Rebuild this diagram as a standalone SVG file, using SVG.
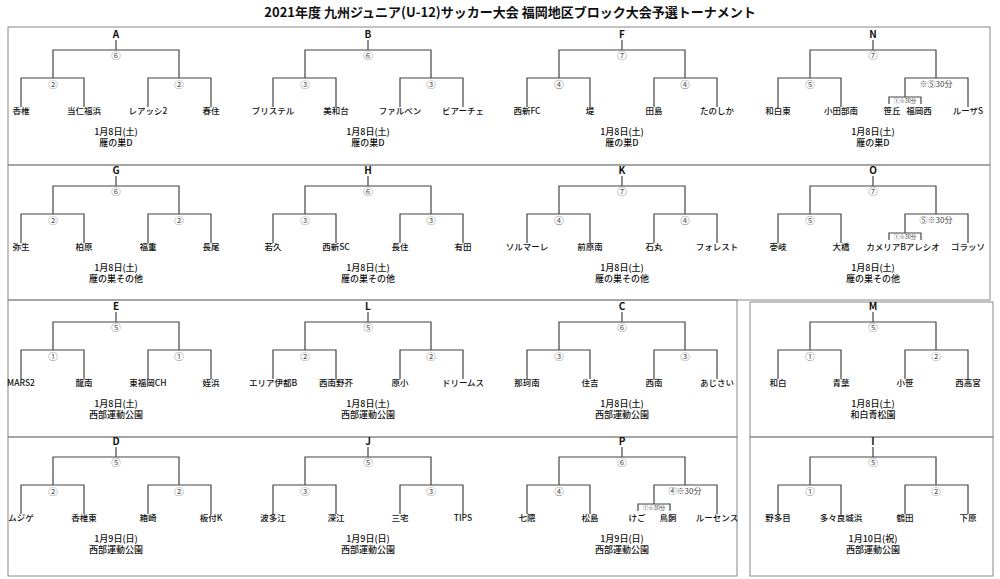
<svg xmlns="http://www.w3.org/2000/svg" xmlns:xlink="http://www.w3.org/1999/xlink" width="1000" height="579" viewBox="0 0 1000 579">
<style>
text{font-family:"Noto Sans CJK JP","Noto Sans CJK SC",sans-serif;fill:#111;text-anchor:middle}
.ttl{font-size:13px;font-weight:bold;fill:#111}
.lt{font-size:10px;font-weight:bold;fill:#111}
.n{font-size:9.5px;fill:#555}
.s{font-size:8px;fill:#444}
.b{font-size:5.5px;fill:#444}
.t{font-size:8.5px;font-weight:500}
.d{font-size:9px;font-weight:500}
.fr{fill:none;stroke:#888;stroke-width:1}
.ln{fill:none;stroke:#444;stroke-width:1.2}
</style>
<defs>
<path id="bk" class="ln" d="M116 40V50M53 78V50H179V78M21 107V78H84V107M148 107V78H211V107"/>
<path id="bk2" class="ln" d="M116 40V50M53 78V50H179V78M21 107V78H84V107M148 97V78H211V107M132 104V97H164V104"/>
</defs>
<rect width="1000" height="579" fill="#fff"/>
<text class="ttl" x="510" y="17">2021年度 九州ジュニア(U-12)サッカー大会 福岡地区ブロック大会予選トーナメント</text>
<g id="frames">
<rect class="fr" x="8" y="27" width="982" height="138"/>
<rect class="fr" x="8" y="165" width="982" height="135"/>
<rect class="fr" x="8" y="300" width="729" height="137"/>
<rect class="fr" x="750" y="302" width="243" height="135"/>
<rect class="fr" x="8" y="437" width="729" height="139"/>
<rect class="fr" x="750" y="437" width="243" height="139"/>
</g>
<g id="connectors">
<use xlink:href="#bk" transform="translate(0,0)"/>
<use xlink:href="#bk" transform="translate(252,0)"/>
<use xlink:href="#bk" transform="translate(506,0)"/>
<use xlink:href="#bk2" transform="translate(757,0)"/>
<use xlink:href="#bk" transform="translate(0,136)"/>
<use xlink:href="#bk" transform="translate(252,136)"/>
<use xlink:href="#bk" transform="translate(506,136)"/>
<use xlink:href="#bk2" transform="translate(757,136)"/>
<use xlink:href="#bk" transform="translate(0,272)"/>
<use xlink:href="#bk" transform="translate(252,272)"/>
<use xlink:href="#bk" transform="translate(506,272)"/>
<use xlink:href="#bk" transform="translate(757,272)"/>
<use xlink:href="#bk" transform="translate(0,407)"/>
<use xlink:href="#bk" transform="translate(252,407)"/>
<use xlink:href="#bk2" transform="translate(506,407)"/>
<use xlink:href="#bk" transform="translate(757,407)"/>
</g>
<g id="block-A" transform="translate(0,0)">
<text class="lt" x="116" y="38">A</text><text class="n" x="116" y="59">⑥</text><text class="n" x="53" y="88">②</text><text class="n" x="179" y="88">②</text>
<text class="t" x="21" y="114">香椎</text><text class="t" x="84" y="114">当仁福浜</text><text class="t" x="148" y="114">レアッシ2</text><text class="t" x="211" y="114">春住</text>
<text class="d" x="116" y="135">1月8日(土)</text><text class="d" x="116" y="146">雁の巣D</text>
</g>
<g id="block-B" transform="translate(252,0)">
<text class="lt" x="116" y="38">B</text><text class="n" x="116" y="59">⑥</text><text class="n" x="53" y="88">③</text><text class="n" x="179" y="88">③</text>
<text class="t" x="21" y="114">ブリステル</text><text class="t" x="84" y="114">美和台</text><text class="t" x="148" y="114">ファルベン</text><text class="t" x="211" y="114">ビアーチェ</text>
<text class="d" x="116" y="135">1月8日(土)</text><text class="d" x="116" y="146">雁の巣D</text>
</g>
<g id="block-F" transform="translate(506,0)">
<text class="lt" x="116" y="38">F</text><text class="n" x="116" y="59">⑦</text><text class="n" x="53" y="88">④</text><text class="n" x="179" y="88">④</text>
<text class="t" x="21" y="114">西新FC</text><text class="t" x="84" y="114">堤</text><text class="t" x="148" y="114">田島</text><text class="t" x="211" y="114">たのしか</text>
<text class="d" x="116" y="135">1月8日(土)</text><text class="d" x="116" y="146">雁の巣D</text>
</g>
<g id="block-N" transform="translate(757,0)">
<text class="lt" x="116" y="38">N</text><text class="n" x="116" y="59">⑦</text><text class="n" x="53" y="88">⑤</text><text class="s" x="179" y="87">※⑤30分</text>
<text class="b" x="148" y="103">①※30分</text>
<text class="t" x="135" y="114">笹丘</text><text class="t" x="162" y="114">福岡西</text>
<text class="t" x="21" y="114">和白東</text><text class="t" x="84" y="114">小田部南</text><text class="t" x="211" y="114">ルーザS</text>
<text class="d" x="116" y="135">1月8日(土)</text><text class="d" x="116" y="146">雁の巣D</text>
</g>
<g id="block-G" transform="translate(0,136)">
<text class="lt" x="116" y="38">G</text><text class="n" x="116" y="59">⑥</text><text class="n" x="53" y="88">②</text><text class="n" x="179" y="88">②</text>
<text class="t" x="21" y="114">弥生</text><text class="t" x="84" y="114">柏原</text><text class="t" x="148" y="114">福重</text><text class="t" x="211" y="114">長尾</text>
<text class="d" x="116" y="135">1月8日(土)</text><text class="d" x="116" y="146">雁の巣その他</text>
</g>
<g id="block-H" transform="translate(252,136)">
<text class="lt" x="116" y="38">H</text><text class="n" x="116" y="59">⑥</text><text class="n" x="53" y="88">③</text><text class="n" x="179" y="88">③</text>
<text class="t" x="21" y="114">若久</text><text class="t" x="84" y="114">西新SC</text><text class="t" x="148" y="114">長住</text><text class="t" x="211" y="114">有田</text>
<text class="d" x="116" y="135">1月8日(土)</text><text class="d" x="116" y="146">雁の巣その他</text>
</g>
<g id="block-K" transform="translate(506,136)">
<text class="lt" x="116" y="38">K</text><text class="n" x="116" y="59">⑦</text><text class="n" x="53" y="88">④</text><text class="n" x="179" y="88">④</text>
<text class="t" x="21" y="114">ソルマーレ</text><text class="t" x="84" y="114">前原南</text><text class="t" x="148" y="114">石丸</text><text class="t" x="211" y="114">フォレスト</text>
<text class="d" x="116" y="135">1月8日(土)</text><text class="d" x="116" y="146">雁の巣その他</text>
</g>
<g id="block-O" transform="translate(757,136)">
<text class="lt" x="116" y="38">O</text><text class="n" x="116" y="59">⑦</text><text class="n" x="53" y="88">⑤</text><text class="s" x="179" y="87">⑤※30分</text>
<text class="b" x="148" y="103">①※30分</text>
<text class="t" x="21" y="114">壱岐</text><text class="t" x="84" y="114">大橋</text><text class="t" x="146" y="114">カメリアBアレシオ</text><text class="t" x="211" y="114">ゴラッソ</text>
<text class="d" x="116" y="135">1月8日(土)</text><text class="d" x="116" y="146">雁の巣その他</text>
</g>
<g id="block-E" transform="translate(0,272)">
<text class="lt" x="116" y="38">E</text><text class="n" x="116" y="59">⑤</text><text class="n" x="53" y="88">①</text><text class="n" x="179" y="88">①</text>
<text class="t" x="21" y="114">MARS2</text><text class="t" x="84" y="114">龍南</text><text class="t" x="148" y="114">東福岡CH</text><text class="t" x="211" y="114">姪浜</text>
<text class="d" x="116" y="135">1月8日(土)</text><text class="d" x="116" y="146">西部運動公園</text>
</g>
<g id="block-L" transform="translate(252,272)">
<text class="lt" x="116" y="38">L</text><text class="n" x="116" y="59">⑤</text><text class="n" x="53" y="88">②</text><text class="n" x="179" y="88">②</text>
<text class="t" x="21" y="114">エリア伊都B</text><text class="t" x="84" y="114">西南野芥</text><text class="t" x="148" y="114">原小</text><text class="t" x="211" y="114">ドリームス</text>
<text class="d" x="116" y="135">1月8日(土)</text><text class="d" x="116" y="146">西部運動公園</text>
</g>
<g id="block-C" transform="translate(506,272)">
<text class="lt" x="116" y="38">C</text><text class="n" x="116" y="59">⑥</text><text class="n" x="53" y="88">③</text><text class="n" x="179" y="88">③</text>
<text class="t" x="21" y="114">那珂南</text><text class="t" x="84" y="114">住吉</text><text class="t" x="148" y="114">西南</text><text class="t" x="211" y="114">あじさい</text>
<text class="d" x="116" y="135">1月8日(土)</text><text class="d" x="116" y="146">西部運動公園</text>
</g>
<g id="block-M" transform="translate(757,272)">
<text class="lt" x="116" y="38">M</text><text class="n" x="116" y="59">⑤</text><text class="n" x="53" y="88">①</text><text class="n" x="179" y="88">②</text>
<text class="t" x="21" y="114">和白</text><text class="t" x="84" y="114">青葉</text><text class="t" x="148" y="114">小笹</text><text class="t" x="211" y="114">西高宮</text>
<text class="d" x="116" y="135">1月8日(土)</text><text class="d" x="116" y="146">和白青松園</text>
</g>
<g id="block-D" transform="translate(0,407)">
<text class="lt" x="116" y="38">D</text><text class="n" x="116" y="59">⑤</text><text class="n" x="53" y="88">②</text><text class="n" x="179" y="88">②</text>
<text class="t" x="21" y="114">ムジゲ</text><text class="t" x="84" y="114">香椎東</text><text class="t" x="148" y="114">箱崎</text><text class="t" x="211" y="114">板付K</text>
<text class="d" x="116" y="135">1月9日(日)</text><text class="d" x="116" y="146">西部運動公園</text>
</g>
<g id="block-J" transform="translate(252,407)">
<text class="lt" x="116" y="38">J</text><text class="n" x="116" y="59">⑤</text><text class="n" x="53" y="88">③</text><text class="n" x="179" y="88">③</text>
<text class="t" x="21" y="114">波多江</text><text class="t" x="84" y="114">深江</text><text class="t" x="148" y="114">三宅</text><text class="t" x="211" y="114">TIPS</text>
<text class="d" x="116" y="135">1月9日(日)</text><text class="d" x="116" y="146">西部運動公園</text>
</g>
<g id="block-P" transform="translate(506,407)">
<text class="lt" x="116" y="38">P</text><text class="n" x="116" y="59">⑥</text><text class="n" x="53" y="88">④</text><text class="s" x="179" y="87">④※30分</text>
<text class="b" x="148" y="103">①※30分</text>
<text class="t" x="21" y="114">七隈</text><text class="t" x="84" y="114">松島</text><text class="t" x="131" y="114">けご</text><text class="t" x="162" y="114">鳥飼</text><text class="t" x="211" y="114">ルーセンス</text>
<text class="d" x="116" y="135">1月9日(日)</text><text class="d" x="116" y="146">西部運動公園</text>
</g>
<g id="block-I" transform="translate(757,407)">
<text class="lt" x="116" y="38">I</text><text class="n" x="116" y="59">⑤</text><text class="n" x="53" y="88">①</text><text class="n" x="179" y="88">②</text>
<text class="t" x="21" y="114">野多目</text><text class="t" x="84" y="114">多々良城浜</text><text class="t" x="148" y="114">鶴田</text><text class="t" x="211" y="114">下原</text>
<text class="d" x="116" y="135">1月10日(祝)</text><text class="d" x="116" y="146">西部運動公園</text>
</g>
</svg>
